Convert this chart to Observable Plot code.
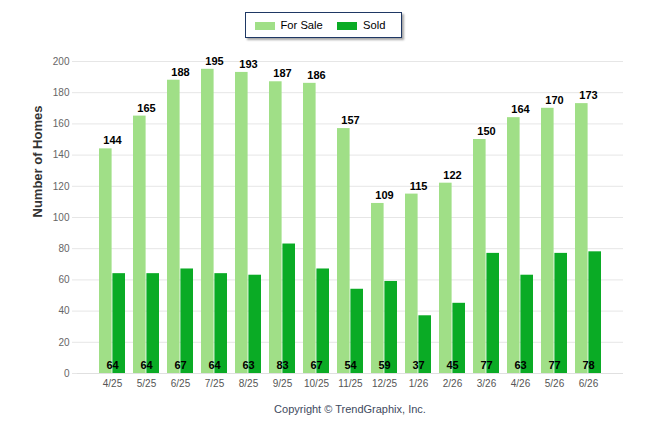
<!DOCTYPE html>
<html><head><meta charset="utf-8">
<script src="https://cdn.jsdelivr.net/npm/d3@7"></script>
<script src="https://cdn.jsdelivr.net/npm/@observablehq/plot@0.6"></script>
<style>
body{margin:0;background:#fff;font-family:"Liberation Sans",Arial,sans-serif;}
#wrap{position:relative;width:646px;height:434px;overflow:hidden;}
#chart{position:absolute;left:0;top:0;}
#legend{position:absolute;left:245px;top:12px;width:157px;height:26px;border:1.5px solid #1f3864;box-shadow:2px 2px 2px rgba(0,0,0,0.35);background:#fff;box-sizing:border-box;font-size:11.2px;color:#000;}
#legend .sw{position:absolute;top:9px;width:20px;height:8px;}
#legend .lb{position:absolute;top:5px;line-height:14px;white-space:nowrap;}
#caption{position:absolute;left:77px;width:546px;top:402px;text-align:center;font-size:11px;line-height:14px;color:#3e4a5e;}
</style>
</head><body>
<div id="wrap">
  <div id="chart"></div>
  <div id="legend"></div>
  <div id="caption">Copyright © TrendGraphix, Inc.</div>
</div>
<script>
const months = ["4/25","5/25","6/25","7/25","8/25","9/25","10/25","11/25","12/25","1/26","2/26","3/26","4/26","5/26","6/26"];
const forSale = [144,165,188,195,193,187,186,157,109,115,122,150,164,170,173];
const sold = [64,64,67,64,63,83,67,54,59,37,45,77,63,77,78];
const yTicks = [0,20,40,60,80,100,120,140,160,180,200];
const seriesNames = ["For Sale","Sold"];
const seriesColors = ["#a0df87","#0aab25"];
const yTitle = "Number of Homes";

const data = months.map((m,i)=>({month:m, forSale:forSale[i], sold:sold[i]}));

const chart = Plot.plot({
  width:646, height:434,
  marginTop:61, marginBottom:61, marginLeft:77, marginRight:23,
  style:{fontFamily:"'Liberation Sans', Arial, sans-serif", background:"transparent"},
  x:{domain:months, paddingInner:0.24, paddingOuter:0.62, label:null},
  y:{domain:[0,200], label:null},
  marks:[
    Plot.gridY(yTicks,{stroke:"#e6e6e6", strokeOpacity:1}),
    Plot.axisY(yTicks,{tickSize:5, stroke:"#e6e6e6", strokeOpacity:1, tickPadding:3, fontSize:10, fill:"#666", label:null}),
    Plot.ruleY([0],{stroke:"#e0e0e0", strokeOpacity:1}),
    Plot.axisX({tickSize:0, tickPadding:6, fontSize:10, fill:"#555", label:null}),
    Plot.barY(data,{x:"month", y:"forSale", fill:seriesColors[0], insetRight:13.4}),
    Plot.barY(data,{x:"month", y:"sold", fill:seriesColors[1], insetLeft:13.4}),
    Plot.text(data,{x:"month", y:"forSale", text:d=>String(d.forSale), dy:-8, fontWeight:"bold", fontSize:11, fill:"#000"}),
    Plot.text(data,{x:"month", y:()=>0, text:d=>String(d.sold), dy:-8.5, fontWeight:"bold", fontSize:11, fill:"#000"}),
    Plot.text([yTitle],{frameAnchor:"left", text:d=>d, rotate:-90, dx:-40, fontWeight:"bold", fontSize:13, fill:"#333"})
  ]
});
document.getElementById("chart").appendChild(chart);

const legend = document.getElementById("legend");
const swX = [8.5, 91];
const lbX = [34.5, 117];
seriesNames.forEach((name,i)=>{
  const sw = document.createElement("div");
  sw.className="sw"; sw.style.left=swX[i]+"px"; sw.style.background=seriesColors[i];
  legend.appendChild(sw);
  const lb = document.createElement("div");
  lb.className="lb"; lb.style.left=lbX[i]+"px"; lb.textContent=name;
  legend.appendChild(lb);
});
</script>
</body></html>
